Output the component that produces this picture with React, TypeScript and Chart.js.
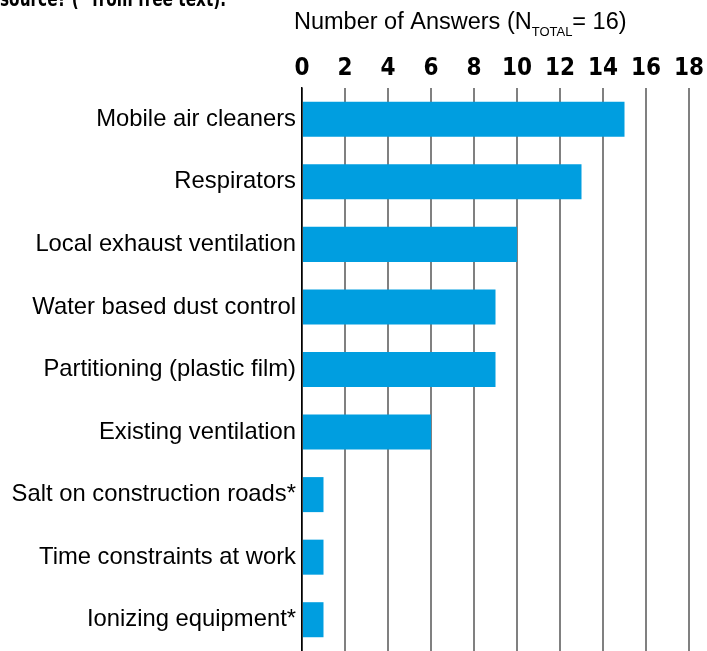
import React, { useEffect, useRef } from "react";
import { Chart, registerables } from "chart.js";

Chart.register(...registerables);

const categories = [
  "Mobile air cleaners",
  "Respirators",
  "Local exhaust ventilation",
  "Water based dust control",
  "Partitioning (plastic film)",
  "Existing ventilation",
  "Salt on construction roads*",
  "Time constraints at work",
  "Ionizing equipment*",
];
const answers = [15, 13, 10, 9, 9, 6, 1, 1, 1];

const TOP_TITLE = "source? (* from free text).";
const AXIS_TITLE_MAIN = "Number of Answers (N";
const AXIS_TITLE_SUB = "TOTAL";
const AXIS_TITLE_END = "= 16)";

const SANS = "'Liberation Sans', Arial, sans-serif";
const NARROW = "'Liberation Sans Narrow', 'DejaVu Sans Condensed', sans-serif";
const BAR_COLOR = "rgb(0,158,224)";

const titlePlugin = {
  id: "customTitles",
  afterDraw(chart: any) {
    const ctx = chart.ctx;
    ctx.save();
    ctx.fillStyle = "#000";
    ctx.textBaseline = "alphabetic";
    ctx.textAlign = "left";
    ctx.font = `bold 21px ${NARROW}`;
    ctx.fillText(TOP_TITLE, 0, 6, 226);
    let x = chart.chartArea.left - 8;
    ctx.font = `23.5px ${SANS}`;
    ctx.fillText(AXIS_TITLE_MAIN, x, 29);
    x += ctx.measureText(AXIS_TITLE_MAIN).width;
    ctx.font = `13px ${SANS}`;
    ctx.fillText(AXIS_TITLE_SUB, x, 36);
    x += ctx.measureText(AXIS_TITLE_SUB).width;
    ctx.font = `23.5px ${SANS}`;
    ctx.fillText(AXIS_TITLE_END, x, 29);
    ctx.restore();
  },
};

export default function App() {
  const ref = useRef<HTMLCanvasElement>(null);
  useEffect(() => {
    if (!ref.current) return;
    const chart = new Chart(ref.current, {
      type: "bar",
      data: {
        labels: categories,
        datasets: [
          {
            data: answers,
            backgroundColor: BAR_COLOR,
            borderWidth: 0,
            barPercentage: 0.56,
            categoryPercentage: 1,
          },
        ],
      },
      options: {
        indexAxis: "y",
        animation: false,
        responsive: false,
        layout: { padding: { left: 0, right: 18, top: 0, bottom: 0 } },
        plugins: {
          legend: { display: false },
          tooltip: { enabled: false },
        },
        scales: {
          x: {
            position: "top",
            min: 0,
            max: 18,
            ticks: {
              stepSize: 2,
              color: "#000",
              padding: 5,
              font: { family: NARROW, size: 24, weight: "bold" },
            },
            grid: {
              color: "#808080",
              lineWidth: 2,
              drawTicks: false,
            },
            border: { display: false },
            afterFit: (s: any) => {
              s.height = 88;
              s.paddingLeft = 0;
              s.paddingRight = 0;
            },
          },
          y: {
            ticks: {
              color: "#000",
              padding: 6,
              font: { family: SANS, size: 23.8 },
            },
            grid: { display: false, drawTicks: false },
            border: { display: true, color: "#000", width: 1.5 },
            afterFit: (s: any) => {
              s.width = 302;
              s.paddingTop = 0;
              s.paddingBottom = 0;
            },
          },
        },
      },
      plugins: [titlePlugin],
    } as any);
    return () => chart.destroy();
  }, []);
  return (
    <div style={{ position: "absolute", left: 0, top: 0, width: 707, height: 651, background: "#fff" }}>
      <canvas ref={ref} width={707} height={651} style={{ display: "block", width: 707, height: 651 }} />
    </div>
  );
}
